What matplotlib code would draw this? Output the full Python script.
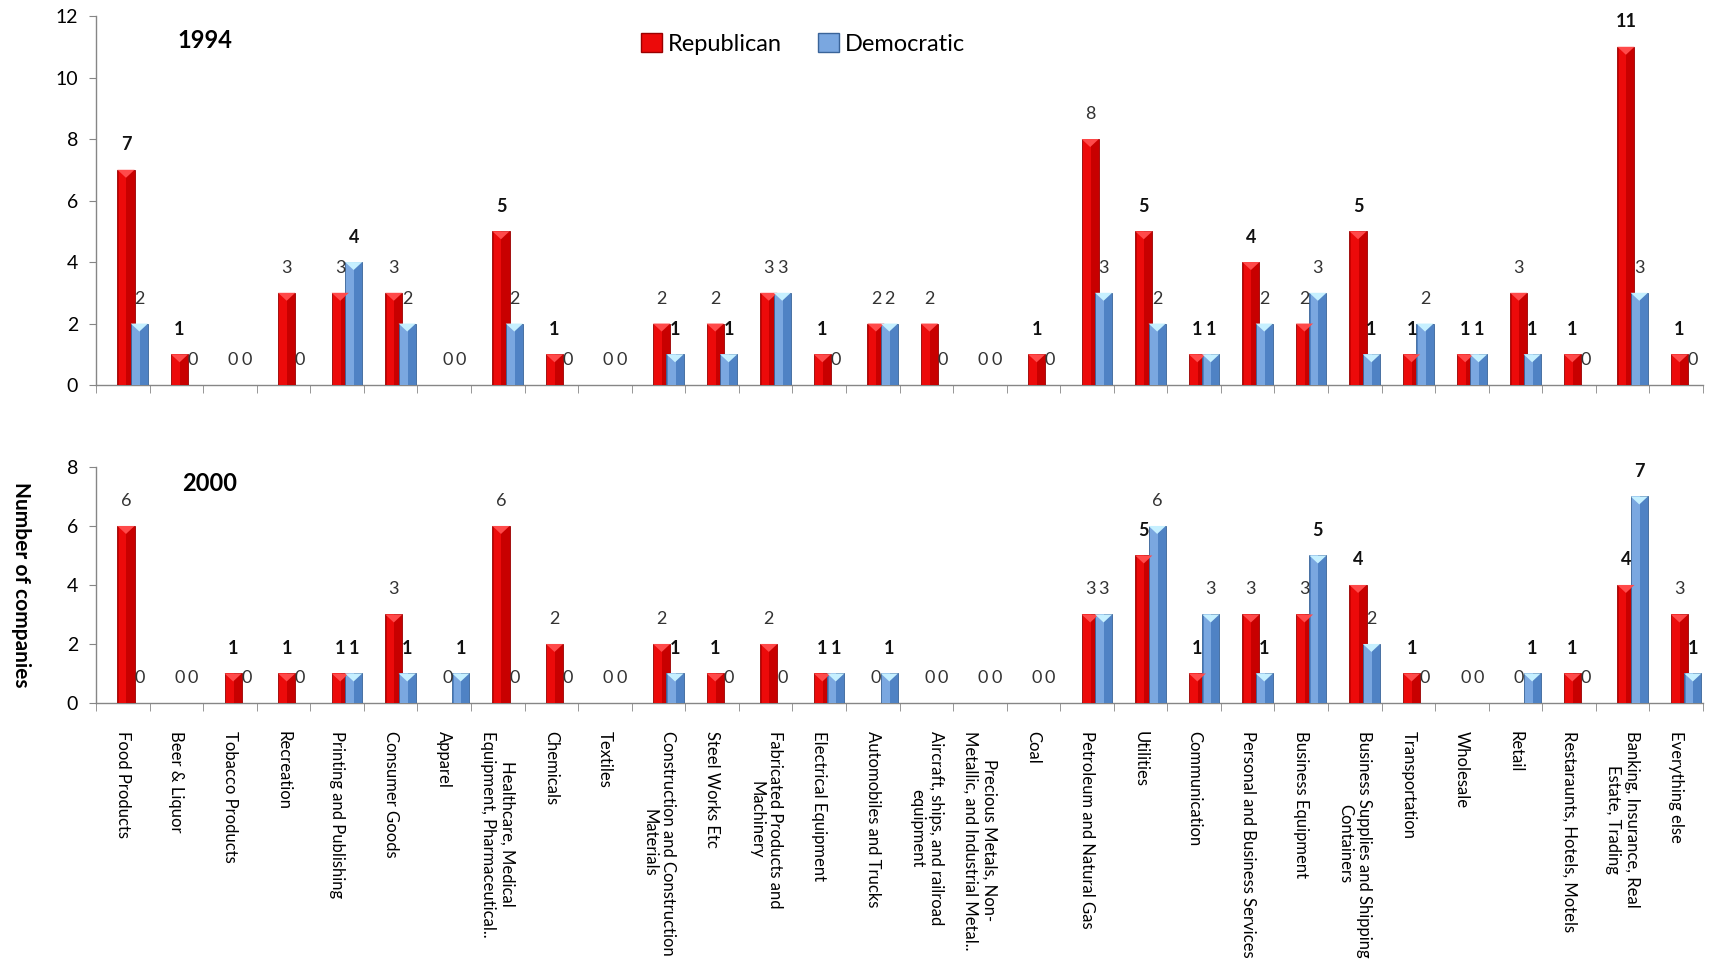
import numpy as np
import matplotlib
matplotlib.use("Agg")
import matplotlib.pyplot as plt
from matplotlib.patches import Patch, Polygon

plt.rcParams['font.family'] = ['Lato', 'DejaVu Sans']

categories = [
    "Food Products", "Beer & Liquor", "Tobacco Products", "Recreation",
    "Printing and Publishing", "Consumer Goods", "Apparel",
    "Healthcare, Medical\nEquipment, Pharmaceutical..", "Chemicals", "Textiles",
    "Construction and Construction\nMaterials", "Steel Works Etc",
    "Fabricated Products and\nMachinery", "Electrical Equipment",
    "Automobiles and Trucks", "Aircraft, ships, and railroad\nequipment",
    "Precious Metals, Non-\nMetallic, and Industrial Metal..", "Coal",
    "Petroleum and Natural Gas", "Utilities", "Communication",
    "Personal and Business Services", "Business Equipment",
    "Business Supplies and Shipping\nContainers", "Transportation", "Wholesale",
    "Retail", "Restaraunts, Hotels, Motels",
    "Banking, Insurance, Real\nEstate, Trading", "Everything else",
]

rep_1994 = [7, 1, 0, 3, 3, 3, 0, 5, 1, 0, 2, 2, 3, 1, 2, 2, 0, 1, 8, 5, 1, 4, 2, 5, 1, 1, 3, 1, 11, 1]
dem_1994 = [2, 0, 0, 0, 4, 2, 0, 2, 0, 0, 1, 1, 3, 0, 2, 0, 0, 0, 3, 2, 1, 2, 3, 1, 2, 1, 1, 0, 3, 0]
rep_2000 = [6, 0, 1, 1, 1, 3, 0, 6, 2, 0, 2, 1, 2, 1, 0, 0, 0, 0, 3, 5, 1, 3, 3, 4, 1, 0, 0, 1, 4, 3]
dem_2000 = [0, 0, 0, 0, 1, 1, 1, 0, 0, 0, 1, 0, 0, 1, 1, 0, 0, 0, 3, 6, 3, 1, 5, 2, 0, 0, 1, 0, 7, 1]

series_names = ["Republican", "Democratic"]

# base, highlight, edge, bevel-triangle
red_style = ('#c80000', '#ec0a0a', '#9a0000', '#ff4a4a')
blue_style = ('#4f82c4', '#7aa7e0', '#3a6499', '#c6f0ff')

x = np.arange(len(categories))
w = 0.32


def draw_bars(ax, pos, values, style, tri_h):
    base, light, edge, tri = style
    bars = ax.bar(pos, values, w, color=base, edgecolor=edge, linewidth=0.6, zorder=3)
    for b in bars:
        h = b.get_height()
        if h <= 0:
            continue
        x0, bw = b.get_x(), b.get_width()
        ax.add_patch(plt.Rectangle((x0 + bw * 0.08, 0), bw * 0.45, h, color=light,
                                   linewidth=0, zorder=3.5))
        ax.add_patch(Polygon([[x0, h], [x0 + bw, h], [x0 + bw / 2, h - tri_h]],
                             closed=True, color=tri, linewidth=0, zorder=4))
    return bars


def label_bars(ax, pos, values):
    for xi, v in zip(pos, values):
        bold = v in (1, 4, 5, 7, 11)
        ax.annotate(str(v), (xi, v), xytext=(0, 18), textcoords='offset points',
                    ha='center', va='center', fontsize=13,
                    color='#111111' if bold else '#333333',
                    fontweight='bold' if bold else 'normal', zorder=6)


def style_axes(ax, ymax):
    ax.set_xlim(-0.5, len(categories) - 0.5)
    ax.set_ylim(0, ymax)
    ax.set_yticks(np.arange(0, ymax + 1, 2))
    for s in ['top', 'right']:
        ax.spines[s].set_visible(False)
    for s in ['left', 'bottom']:
        ax.spines[s].set_color('#868686')
        ax.spines[s].set_linewidth(1.0)
    ax.set_xticks(x)
    ax.set_xticks(np.arange(-0.5, len(categories), 1), minor=True)
    ax.tick_params(axis='x', which='major', length=0)
    ax.tick_params(axis='x', which='minor', length=6, color='#868686', direction='out')
    ax.tick_params(axis='y', length=5, color='#868686', labelsize=14, pad=8)
    ax.set_axisbelow(True)


fig = plt.figure(figsize=(17.14, 9.66), dpi=100)
ax1 = fig.add_axes([0.056, 0.6014, 0.9376, 0.382])
ax2 = fig.add_axes([0.056, 0.2723, 0.9376, 0.2443])

# bevel height in data units, so both panels get the same pixel size
tri_top = 0.26
tri_bottom = 0.26 * (8 / 12) * (0.382 / 0.2443)

for ax, rep, dem, ymax, year, xpos, ypos, tri_h in [
    (ax1, rep_1994, dem_1994, 12, "1994", 0.068, 0.935, tri_top),
    (ax2, rep_2000, dem_2000, 8, "2000", 0.071, 0.93, tri_bottom),
]:
    style_axes(ax, ymax)
    draw_bars(ax, x + 0.06, rep, red_style, tri_h)
    draw_bars(ax, x + 0.31, dem, blue_style, tri_h)
    label_bars(ax, x + 0.06, rep)
    label_bars(ax, x + 0.31, dem)
    ax.text(xpos, ypos, year, transform=ax.transAxes,
            ha='center', va='center', fontsize=17, fontweight='bold')

ax1.set_xticklabels([])
ax2.set_xticklabels(categories, rotation=270, ha='center', va='top',
                    multialignment='center', fontsize=12)
ax2.tick_params(axis='x', which='major', pad=20)

handles = [Patch(facecolor=red_style[1], edgecolor=red_style[2]),
           Patch(facecolor=blue_style[1], edgecolor=blue_style[2])]
ax1.legend(handles, series_names, loc='center', bbox_to_anchor=(0.44, 0.925),
           ncol=2, frameon=False, fontsize=17, handlelength=0.9, handleheight=0.9,
           handletextpad=0.25, columnspacing=1.5)

fig.text(0.012, 0.395, "Number of companies", rotation=270, ha='center', va='center',
         fontsize=15, fontweight='bold')

fig.savefig("out.png", dpi=100)
